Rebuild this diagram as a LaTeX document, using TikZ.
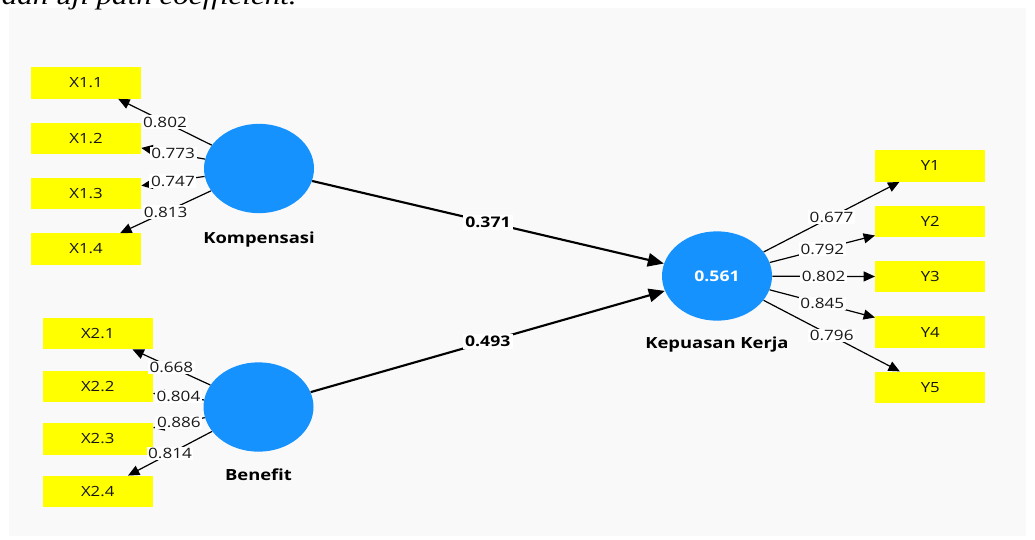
\documentclass[tikz,border=0pt]{standalone}
\usepackage{fontspec}
\setsansfont{Open Sans}
\newfontfamily\notefont{Liberation Serif}
\usetikzlibrary{positioning,shapes.geometric,arrows.meta}

\definecolor{lvblue}{RGB}{22,146,255}
\definecolor{indyellow}{RGB}{255,255,0}
\definecolor{canvas}{RGB}{249,249,249}

\tikzset{
	latent/.style={ellipse,fill=lvblue,minimum width=68.75pt,minimum height=67pt,inner sep=0pt,xscale=1.2},
	ind/.style={rectangle,fill=indyellow,minimum width=68.75pt,minimum height=23.5pt,inner sep=0pt,xscale=1.2,
		font=\sffamily\fontsize{10.5}{12}\selectfont,text=black!92},
	lvname/.style={xscale=1.2,font=\sffamily\bfseries\fontsize{11.5}{13}\selectfont},
	load/.style={draw=black,line width=0.9pt,-{Triangle[length=8.5pt,width=7.5pt]}},
	pathline/.style={draw=black,line width=1.6pt,-{Triangle[length=12pt,width=10pt]}},
	wt/.style={fill=white,inner sep=1pt,xscale=1.2,font=\sffamily\fontsize{10.7}{12}\selectfont,text=black!90},
	pc/.style={fill=white,inner sep=1.5pt,xscale=1.2,font=\sffamily\bfseries\fontsize{11}{13}\selectfont}
}

\begin{document}
\begin{tikzpicture}[x=0.75pt,y=-0.75pt,node distance=41.5pt,on grid]
	\fill[white] (0,0) rectangle (1035,539);
	\useasboundingbox (0,0) rectangle (1035,539);
	\fill[canvas] (9,8) rectangle (1026,536);
	% cut-off line of the surrounding text
	\node[anchor=base east,inner sep=0pt,xscale=1.2,font=\notefont\itshape\fontsize{19.4}{22}\selectfont] (note) at (297,4) {dan uji path coefficient.};

	% latent variables
	\node[latent] (komp) at (259,168.5) {};
	\node[latent] (ben) at (258.5,407) {};
	\node[latent,text=white,font=\sffamily\bfseries\fontsize{11}{13}\selectfont] (kep) at (717,276) {0.561};
	\node[lvname,below=53.6pt of komp] (kompname) {Kompensasi};
	\node[lvname,below=51pt of ben] (benname) {Benefit};
	\node[lvname,below=51.75pt of kep] (kepname) {Kepuasan Kerja};

	% indicators
	\node[ind] (x11) at (86,83) {X1.1};
	\node[ind,below of=x11] (x12) {X1.2};
	\node[ind,below of=x12] (x13) {X1.3};
	\node[ind,below of=x13] (x14) {X1.4};
	\node[ind] (x21) at (97.7,333.5) {X2.1};
	\node[ind,below of=x21,node distance=39.5pt] (x22) {X2.2};
	\node[ind,below of=x22,node distance=39.5pt] (x23) {X2.3};
	\node[ind,below of=x23,node distance=39.5pt] (x24) {X2.4};
	\node[ind] (y1) at (930.3,166) {Y1};
	\node[ind,below of=y1] (y2) {Y2};
	\node[ind,below of=y2] (y3) {Y3};
	\node[ind,below of=y3] (y4) {Y4};
	\node[ind,below of=y4] (y5) {Y5};

	% outer loadings
	\path (komp) edge[load] node[wt] {0.802} (x11)
		(komp) edge[load] node[wt] {0.773} (x12)
		(komp) edge[load] node[wt] {0.747} (x13)
		(komp) edge[load] node[wt] {0.813} (x14)
		(ben) edge[load] node[wt] {0.668} (x21)
		(ben) edge[load] node[wt] {0.804} (x22)
		(ben) edge[load] node[wt] {0.886} (x23)
		(ben) edge[load] node[wt] {0.814} (x24)
		(kep) edge[load] node[wt] {0.677} (y1)
		(kep) edge[load] node[wt] {0.792} (y2)
		(kep) edge[load] node[wt] {0.802} (y3)
		(kep) edge[load] node[wt] {0.845} (y4)
		(kep) edge[load] node[wt] {0.796} (y5);

	% path coefficients
	\path (komp) edge[pathline] node[pc] {0.371} (kep)
		(ben) edge[pathline] node[pc] {0.493} (kep);
\end{tikzpicture}
\end{document}
